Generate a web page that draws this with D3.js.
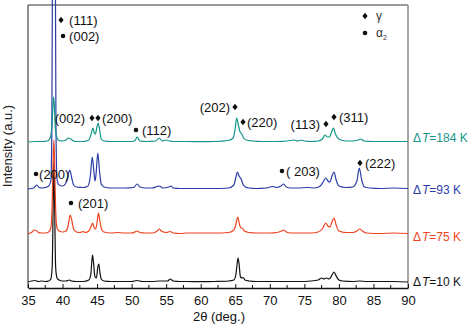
<!DOCTYPE html>
<html><head><meta charset="utf-8">
<script src="https://cdn.jsdelivr.net/npm/d3@7"></script>
<style>
html,body{margin:0;padding:0;background:#fff;}
svg{display:block;font-family:"Liberation Sans",Arial,sans-serif;}
</style></head>
<body><svg id="c" width="472" height="328"></svg>
<script>
// ---- data (2θ in degrees, intensity in a.u. relative to each trace's own baseline) ----
const seriesNames = ["ΔT=10 K", "ΔT=75 K", "ΔT=93 K", "ΔT=184 K"];
const seriesColors = ["#111111", "#ee4422", "#2b3da8", "#16968a"];
const seriesOffsets = [6, 54, 99, 146];

const trace10K = [[35,0],[35.5,1],[36,1.5],[36.5,0.5],[37,1],[37.5,0.5],[38,1],[38.3,3],[38.5,15],[38.65,80],[38.75,122],[38.85,80],[39.0,15],[39.2,4],[39.5,2],[40,1],[40.5,1],[41,2],[41.3,1],[42,0.5],[43,0.5],[43.8,2],[44.1,8],[44.25,22],[44.35,27],[44.5,18],[44.7,5],[44.9,4],[45.1,15],[45.25,18],[45.4,10],[45.6,3],[46,1],[47,0.5],[48,0.5],[49,0.5],[50,0.5],[50.8,1.5],[51.5,0.5],[53,0.5],[54,1],[55.2,1],[55.6,3],[56,1],[57,0.5],[58,0.5],[60,0.3],[62,0.5],[64,1],[64.8,2],[65.1,8],[65.3,20],[65.4,24],[65.55,18],[65.75,5],[66,4],[66.15,4.5],[66.4,2],[67,1],[68,0.5],[70,0.5],[72,0.5],[74,0.5],[76,1],[77,2],[77.5,4],[77.8,3],[78.2,4],[78.6,3],[79.0,7],[79.3,10],[79.6,6],[80,2],[80.5,1],[82,0.5],[83,1],[84,0.5],[86,0.5],[88,0.5],[90,0]];
const trace75K = [[35,0],[35.6,2],[35.9,4],[36.2,3.5],[36.5,1.5],[37,1],[37.5,1],[38,2],[38.3,6],[38.5,30],[38.65,80],[38.75,94],[38.85,70],[39,25],[39.2,6],[39.5,3],[40,2],[40.5,3],[40.8,8],[41.1,19],[41.3,15],[41.6,5],[42,2],[42.5,1.5],[43,2.5],[43.3,1.5],[43.8,3],[44.1,7],[44.35,11],[44.6,6],[44.8,5],[45.0,12],[45.2,21],[45.4,13],[45.7,4],[46,2],[47,1],[48,1.5],[49,1],[50,1],[50.5,2],[50.8,3],[51.2,1.5],[52,1],[53,1],[53.7,3],[54,5],[54.3,3],[55,1.5],[55.6,2.5],[56,1],[57,0.5],[58,1],[60,1],[62,1],[64,1.5],[64.8,4],[65.1,10],[65.35,17],[65.6,10],[65.8,6],[66,6],[66.3,3],[67,1.5],[68,1],[70,1],[71,1.5],[71.7,3],[72,4],[72.4,2],[73,1],[75,1],[76,1],[77,2],[77.6,5],[78.1,11],[78.4,8],[78.7,7],[79.0,12],[79.3,16],[79.6,9],[80,3],[81,1.5],[82,1.5],[82.6,3],[83,5],[83.4,3],[84,1],[86,0.5],[88,1],[90,0.5]];
const trace93K = [[35,0],[35.8,1],[36.1,3],[36.3,4],[36.6,1.5],[37,1],[37.5,1.5],[38,3],[38.3,8],[38.45,60],[38.55,250],[38.75,520],[38.95,250],[39.05,60],[39.2,10],[39.5,4],[40,3],[40.5,6],[40.8,14],[41.05,19],[41.3,12],[41.6,4],[42,2],[43,1.5],[43.7,3],[44.0,12],[44.3,32],[44.5,20],[44.7,8],[44.85,15],[45.1,36],[45.35,18],[45.6,5],[46,2],[47,1],[48,1],[49,1],[50.3,1.5],[50.8,5],[51.2,2],[52,1],[53,1],[53.7,2.5],[54,3],[54.5,1],[55.4,2],[55.7,3],[56,1],[57,0.5],[58,0.5],[60,0.5],[62,0.5],[64,1],[64.8,4],[65.1,12],[65.3,17],[65.55,13],[65.85,10],[66.1,5],[66.5,2],[67,1],[68,0.5],[69.5,1],[70.4,2.5],[71,1.5],[71.6,3],[72,5],[72.4,2],[73,1],[74,1],[75.5,1.5],[76.5,1],[77.3,3],[77.8,8],[78.1,11],[78.4,8],[78.7,7],[79.0,13],[79.3,17],[79.6,9],[80,3],[81,1.5],[82,2],[82.6,8],[82.95,21],[83.3,9],[83.7,2],[84.5,1],[86,0.5],[88,1],[90,0.5]];
const trace184K = [[35,0],[36,0.5],[37,0.5],[37.8,1],[38.2,4],[38.45,15],[38.6,35],[38.7,45],[38.8,38],[38.95,15],[39.2,4],[39.5,1.5],[40,1],[40.5,2],[40.8,4],[41.2,3],[41.6,1],[42,0.5],[43,0.5],[43.8,2],[44.1,7],[44.4,14],[44.6,9],[44.75,8],[44.95,14],[45.15,19],[45.35,13],[45.6,3],[46,1],[47,0.5],[48,0.5],[50,0.5],[50.5,1.5],[50.8,5],[51.2,1],[52,0.5],[53.5,1],[54,4],[54.4,1],[55,2],[55.5,1],[56,0.5],[58,0.5],[60,0.3],[62,0.5],[64,1.5],[64.7,4],[65.0,14],[65.2,24],[65.45,17],[65.7,10],[65.95,8],[66.2,4],[66.6,2],[67.5,1],[69,0.5],[71,0.5],[72.5,1],[73.5,2],[74,1],[74.5,2],[75,1],[76,0.5],[77,1],[77.6,3],[78.0,7],[78.3,5],[78.6,5],[79.0,11],[79.2,14],[79.5,8],[80,3],[81,1],[82,1],[82.8,2],[83.2,3],[83.6,1],[85,0.5],[87,0.5],[90,0.5]];
const traces = [trace10K, trace75K, trace93K, trace184K];

const xTicks = [35,40,45,50,55,60,65,70,75,80,85,90];
const xMinorTicks = [37.5,42.5,47.5,52.5,57.5,62.5,67.5,72.5,77.5,82.5,87.5];

// peak annotations: [marker ("d" = γ diamond, "o" = α2 dot or "" none), marker 2θ, marker height, text, text 2θ, anchor]
const annotations = [
  ["d", 39.78, 268, "(111)", 40.95, "start"],
  ["o", 40.07, 252, "(002)", 40.95, "start"],
  ["",  0, 170, "(002)", 43.25, "end"],
  ["d", 44.26, 170, "", 0, "start"],
  ["d", 45.13, 170, "(200)", 45.7, "start"],
  ["o", 50.63, 158, "(112)", 51.5, "start"],
  ["d", 64.96, 181, "(202)", 64.24, "end"],
  ["d", 66.12, 166, "(220)", 66.7, "start"],
  ["d", 78.13, 164, "(113)", 77.26, "end"],
  ["d", 79.29, 171, "(311)", 80.0, "start"],
  ["o", 36.16, 114, "(200)", 36.6, "start"],
  ["o", 41.22, 85, "(201)", 42.24, "start"],
  ["o", 71.76, 117, "( 203)", 72.34, "start"],
  ["d", 83.05, 125, "(222)", 83.78, "start"]
];
const legendItems = [["d", "γ", ""], ["o", "α", "2"]];
const seriesLabelShift = [0, 3, 1, -4];

// ---- layout ----
const svg = d3.select("#c");
const L = 28, R = 408, T = 5, B = 288;
const x = d3.scaleLinear().domain([35, 90]).range([L, R]);
const y = d3.scaleLinear().domain([0, 283]).range([B, T]);

// frame
svg.append("line").attr("x1", L).attr("x2", R).attr("y1", T).attr("y2", T).attr("stroke", "#9a9a9a").attr("stroke-width", 2);
svg.append("line").attr("x1", R).attr("x2", R).attr("y1", T).attr("y2", B).attr("stroke", "#8a8a8a").attr("stroke-width", 1.5);
svg.append("line").attr("x1", L).attr("x2", L).attr("y1", T).attr("y2", B).attr("stroke", "#555").attr("stroke-width", 1.3);

// traces
const line = d3.line().x(d => x(d[0])).y(d => d[1]).curve(d3.curveMonotoneX);
traces.forEach((tr, i) => {
  const pts = tr.map(d => [d[0], y(d[1] + seriesOffsets[i])]);
  svg.append("path").attr("d", line(pts)).attr("fill", "none")
    .attr("stroke", seriesColors[i]).attr("stroke-width", 1.2).attr("stroke-linejoin", "round");
});

// x axis (ticks inside)
const xAxis = d3.axisBottom(x).tickValues(xTicks).tickSizeInner(-4).tickSizeOuter(0).tickPadding(8);
const gx = svg.append("g").attr("transform", `translate(0,${B})`).call(xAxis);
gx.select(".domain").attr("stroke", "#111").attr("stroke-width", 1.3);
gx.selectAll(".tick line").attr("stroke", "#111");
gx.selectAll("text").attr("font-size", 13).attr("fill", "#111").attr("font-family", "Liberation Sans, Arial, sans-serif");
svg.append("g").selectAll("line").data(xMinorTicks).join("line")
  .attr("x1", d => x(d)).attr("x2", d => x(d)).attr("y1", B).attr("y2", B - 3).attr("stroke", "#111");

// axis titles
svg.append("text").attr("x", 219).attr("y", 321).attr("text-anchor", "middle").attr("font-size", 13).attr("fill", "#111").text("2θ (deg.)");
svg.append("text").attr("transform", "translate(12,146) rotate(-90)").attr("text-anchor", "middle")
  .attr("font-size", 13).attr("fill", "#222").text("Intensity (a.u.)");

// markers
function diamond(g, cx, cy) {
  g.append("path").attr("d", `M${cx},${cy-3.3}L${cx+2.6},${cy}L${cx},${cy+3.3}L${cx-2.6},${cy}Z`).attr("fill", "#111");
}
function dot(g, cx, cy) {
  g.append("circle").attr("cx", cx).attr("cy", cy).attr("r", 2.3).attr("fill", "#111");
}
const ag = svg.append("g");
annotations.forEach(a => {
  const yy = y(a[2]);
  if (a[0] === "d") diamond(ag, x(a[1]), yy);
  if (a[0] === "o") dot(ag, x(a[1]), yy);
  if (a[3]) ag.append("text").attr("x", x(a[4])).attr("y", yy).attr("dy", "0.35em")
    .attr("text-anchor", a[5]).attr("font-size", 13).attr("fill", "#111").text(a[3]);
});

// legend
legendItems.forEach((it, i) => {
  const cy = 16 + i * 17;
  if (it[0] === "d") diamond(svg, 365, cy); else dot(svg, 365, cy);
  const t = svg.append("text").attr("x", 376).attr("y", cy).attr("dy", "0.35em").attr("font-size", 12).attr("fill", "#333");
  t.append("tspan").text(it[1]);
  if (it[2]) t.append("tspan").attr("font-size", 7).attr("dy", "0.35em").text(it[2]);
});

// series labels at right
seriesNames.forEach((n, i) => {
  const t = svg.append("text").attr("x", 413).attr("y", y(seriesOffsets[i]) + seriesLabelShift[i]).attr("dy", "0.35em")
    .attr("font-size", 12).attr("fill", seriesColors[i]);
  t.append("tspan").text("Δ");
  t.append("tspan").attr("dx", 1).attr("font-style", "italic").text("T");
  t.append("tspan").text(n.slice(2));
});
</script></body></html>
